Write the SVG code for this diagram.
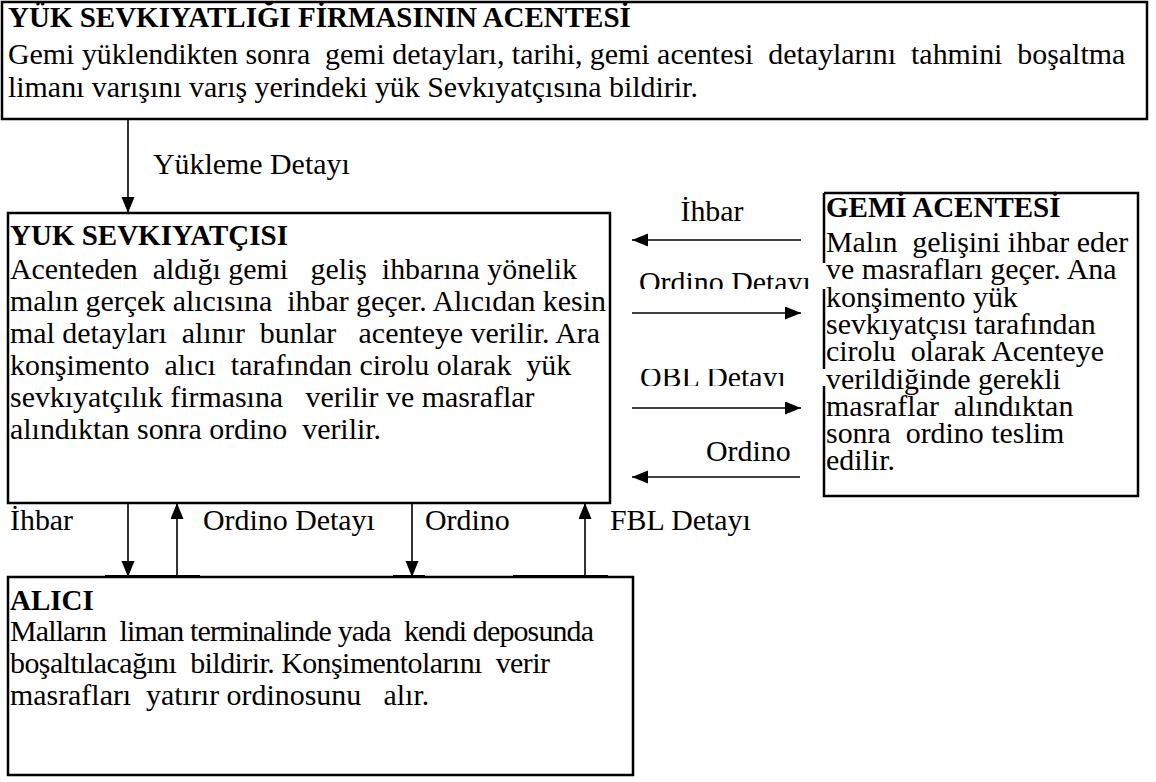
<svg xmlns="http://www.w3.org/2000/svg" width="1156" height="782" viewBox="0 0 1156 782">
<style>
.box{fill:#fff;stroke:#000;stroke-width:2.5}
.t{font-family:"Liberation Serif","Times New Roman",serif;font-size:29.9px;fill:#000}
.b{font-family:"Liberation Serif","Times New Roman",serif;font-size:29px;font-weight:bold;fill:#000}
.c{stroke:#000;stroke-width:1.6;fill:none}
.seg{stroke:#000;stroke-width:2;fill:none}
</style>
<defs>
<marker id="ah" markerUnits="userSpaceOnUse" markerWidth="17" markerHeight="14" refX="16" refY="6.5" orient="auto">
<path d="M0,0 L16,6.5 L0,13 z" fill="#000"/>
</marker>
<clipPath id="clipIhbar" clipPathUnits="userSpaceOnUse"><rect x="634" y="196" width="190" height="37"/></clipPath>
<clipPath id="clipOD" clipPathUnits="userSpaceOnUse"><rect x="634" y="263" width="190" height="26"/></clipPath>
<clipPath id="clipOBL" clipPathUnits="userSpaceOnUse"><rect x="634" y="369" width="190" height="17"/></clipPath>
</defs>
<rect width="1156" height="782" fill="#fff"/>

<g id="node-acente">
<rect class="box" x="2" y="2" width="1145" height="117"/>
<text class="b" x="8" y="27">YÜK SEVKIYATLIĞI FİRMASININ ACENTESİ</text>
<text class="t" x="8" y="64" xml:space="preserve">Gemi yüklendikten sonra  gemi detayları, tarihi, gemi acentesi  detaylarını  tahmini  boşaltma</text>
<text class="t" x="8" y="97">limanı varışını varış yerindeki yük Sevkıyatçısına bildirir.</text>
</g>

<g id="node-sevkiyatci">
<rect class="box" x="8" y="213" width="602" height="290"/>
<text class="b" x="10" y="245">YUK SEVKIYATÇISI</text>
<text class="t" x="10" y="279" xml:space="preserve">Acenteden  aldığı gemi   geliş  ihbarına yönelik</text>
<text class="t" x="10" y="311" xml:space="preserve">malın gerçek alıcısına  ihbar geçer. Alıcıdan kesin</text>
<text class="t" x="10" y="343" xml:space="preserve">mal detayları  alınır  bunlar   acenteye verilir. Ara</text>
<text class="t" x="10" y="375" xml:space="preserve">konşimento  alıcı  tarafından cirolu olarak  yük</text>
<text class="t" x="10" y="407" xml:space="preserve">sevkıyatçılık firmasına   verilir ve masraflar</text>
<text class="t" x="10" y="439" xml:space="preserve">alındıktan sonra ordino  verilir.</text>
</g>

<g id="node-gemi-acentesi">
<rect x="824" y="193" width="314" height="303" fill="#fff"/>
<path class="box" d="M824,193 H1138 V496 H824 V386 M824,369 V289 M824,263 V193"/>
<text class="b" x="826" y="217">GEMİ ACENTESİ</text>
<text class="t" x="826" y="252" xml:space="preserve">Malın  gelişini ihbar eder</text>
<text class="t" x="826" y="279">ve masrafları geçer. Ana</text>
<text class="t" x="826" y="307">konşimento yük</text>
<text class="t" x="826" y="334">sevkıyatçısı tarafından</text>
<text class="t" x="826" y="361" xml:space="preserve">cirolu  olarak Acenteye</text>
<text class="t" x="826" y="389">verildiğinde gerekli</text>
<text class="t" x="826" y="416" xml:space="preserve">masraflar  alındıktan</text>
<text class="t" x="826" y="443" xml:space="preserve">sonra  ordino teslim</text>
<text class="t" x="826" y="470">edilir.</text>
</g>

<g id="node-alici">
<rect class="box" x="8" y="577" width="625" height="198"/>
<text class="b" x="10" y="610">ALICI</text>
<text class="t" x="10" y="641" xml:space="preserve" textLength="584" lengthAdjust="spacing">Malların  liman terminalinde yada  kendi deposunda</text>
<text class="t" x="10" y="673" xml:space="preserve" textLength="540" lengthAdjust="spacing">boşaltılacağını  bildirir. Konşimentolarını  verir</text>
<text class="t" x="10" y="705" xml:space="preserve">masrafları  yatırır ordinosunu   alır.</text>
</g>

<g id="connectors">
<line class="c" x1="128" y1="119" x2="128" y2="213" marker-end="url(#ah)"/>
<text class="t" x="153" y="174">Yükleme Detayı</text>

<line class="c" x1="801" y1="240" x2="632" y2="240" marker-end="url(#ah)"/>
<text class="t" x="712" y="221" text-anchor="middle" clip-path="url(#clipIhbar)">İhbar</text>

<line class="c" x1="632" y1="313" x2="801" y2="313" marker-end="url(#ah)"/>
<text class="t" x="639" y="292" clip-path="url(#clipOD)">Ordino Detayı</text>

<line class="c" x1="632" y1="408" x2="801" y2="408" marker-end="url(#ah)"/>
<text class="t" x="640" y="387" clip-path="url(#clipOBL)">OBL Detayı</text>

<line class="c" x1="800" y1="477" x2="632" y2="477" marker-end="url(#ah)"/>
<text class="t" x="706" y="461">Ordino</text>

<line class="c" x1="128" y1="503" x2="128" y2="577" marker-end="url(#ah)"/>
<line class="c" x1="177" y1="577" x2="177" y2="503" marker-end="url(#ah)"/>
<line class="c" x1="412" y1="503" x2="412" y2="577" marker-end="url(#ah)"/>
<line class="c" x1="585" y1="577" x2="585" y2="503" marker-end="url(#ah)"/>
<line class="seg" x1="105" y1="576" x2="200" y2="576"/>
<line class="seg" x1="393" y1="576" x2="425" y2="576"/>
<line class="seg" x1="513" y1="576" x2="608" y2="576"/>
<text class="t" x="10" y="530">İhbar</text>
<text class="t" x="203" y="530">Ordino Detayı</text>
<text class="t" x="425" y="530">Ordino</text>
<text class="t" x="610" y="530">FBL Detayı</text>
</g>
</svg>
